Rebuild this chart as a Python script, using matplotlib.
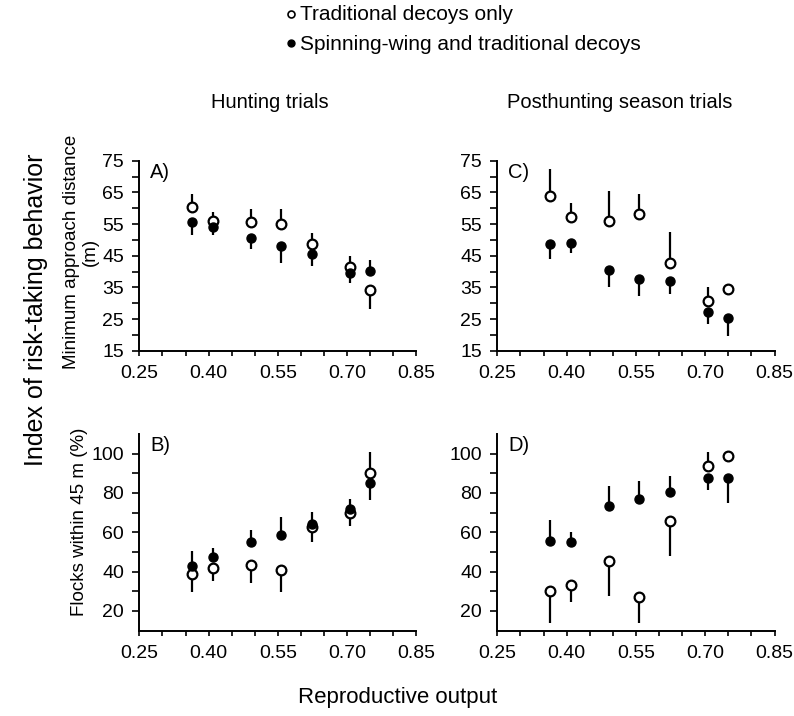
import numpy as np
import matplotlib
matplotlib.use("Agg")
import matplotlib.pyplot as plt

plt.rcParams['font.family'] = ['Liberation Sans', 'DejaVu Sans']

# Reproductive output (x positions, shared by all panels)
repro = [0.363, 0.409, 0.492, 0.556, 0.624, 0.705, 0.750]

# Panel A: hunting trials, minimum approach distance (m)
A_open = [60.3, 56.0, 55.5, 55.1, 48.8, 41.5, 34.2]
A_open_end = [64.6, 58.8, 59.8, 59.8, 52.2, 45.0, 28.2]
A_fill = [55.5, 54.0, 50.7, 48.2, 45.4, 39.6, 40.1]
A_fill_end = [51.4, 51.4, 47.1, 42.7, 41.9, 36.5, 43.5]

# Panel C: posthunting season, minimum approach distance (m)
C_open = [64.0, 57.2, 55.8, 58.2, 42.8, 30.7, 34.5]
C_open_end = [72.5, 61.6, 65.3, 64.4, 52.6, 35.0, 34.5]
C_fill = [48.6, 49.0, 40.4, 37.5, 37.0, 27.3, 25.3]
C_fill_end = [44.0, 45.8, 35.2, 32.2, 32.8, 23.3, 19.7]

# Panel B: hunting trials, flocks within 45 m (%)
B_open = [38.6, 41.8, 43.3, 41.0, 62.7, 69.7, 89.9]
B_open_end = [29.7, 35.3, 34.1, 29.7, 55.1, 63.3, 100.8]
B_fill = [42.8, 47.2, 54.9, 58.6, 64.2, 71.9, 85.3]
B_fill_end = [50.4, 52.1, 61.3, 67.7, 70.5, 76.8, 76.4]

# Panel D: posthunting season, flocks within 45 m (%)
D_open = [30.0, 33.4, 45.5, 27.0, 65.8, 93.9, 98.7]
D_open_end = [13.7, 24.4, 27.5, 13.7, 47.9, 100.8, 98.7]
D_fill = [55.8, 54.9, 73.6, 76.8, 80.6, 87.7, 87.7]
D_fill_end = [66.0, 59.9, 83.5, 86.0, 88.5, 81.5, 75.1]

xticks = [0.25, 0.30, 0.35, 0.40, 0.45, 0.50, 0.55, 0.60, 0.65, 0.70, 0.75, 0.80, 0.85]
xlabels = ["0.25", "", "", "0.40", "", "", "0.55", "", "", "0.70", "", "", "0.85"]
dist_ticks = [15, 20, 25, 30, 35, 40, 45, 50, 55, 60, 65, 70, 75]
dist_labels = ["15", "", "25", "", "35", "", "45", "", "55", "", "65", "", "75"]
flock_ticks = [20, 30, 40, 50, 60, 70, 80, 90, 100]
flock_labels = ["20", "", "40", "", "60", "", "80", "", "100"]

W, H = 794, 716
fig = plt.figure(figsize=(W / 100, H / 100), dpi=100)


def rect(x0, x1, ytop, ybot):
    return [x0 / W, 1 - ybot / H, (x1 - x0) / W, (ybot - ytop) / H]


axA = fig.add_axes(rect(139.3, 416.5, 160.7, 350.7))
axC = fig.add_axes(rect(497.3, 774.5, 160.7, 350.7))
axB = fig.add_axes(rect(139.3, 416.5, 434.0, 630.5))
axD = fig.add_axes(rect(497.3, 774.5, 434.0, 630.5))


def yerr(vals, ends):
    v = np.array(vals)
    e = np.array(ends)
    lower = np.clip(v - e, 0, None)
    upper = np.clip(e - v, 0, None)
    return [lower, upper]


def draw(ax, o, oe, f, fe, ylim, yt, ytl, letter):
    ax.errorbar(repro, o, yerr=yerr(o, oe), fmt='o', mfc='white', mec='black',
                mew=1.6, ms=7, ecolor='black', elinewidth=1.6, capsize=0, zorder=3)
    ax.errorbar(repro, f, yerr=yerr(f, fe), fmt='o', mfc='black', mec='black',
                ms=6.5, ecolor='black', elinewidth=1.6, capsize=0, zorder=4)
    ax.set_xlim(0.25, 0.85)
    ax.set_ylim(*ylim)
    ax.set_xticks(xticks)
    ax.set_xticklabels(xlabels, fontsize=14)
    ax.set_yticks(yt)
    ax.set_yticklabels(ytl, fontsize=14)
    for s in ['top', 'right']:
        ax.spines[s].set_visible(False)
    for s in ['left', 'bottom']:
        ax.spines[s].set_linewidth(1.4)
    ax.tick_params(axis='x', direction='out', length=3.5, width=1.2, pad=7)
    ax.tick_params(axis='y', direction='out', length=5, width=1.2, pad=6)
    ax.text(0.04, 0.99, letter, transform=ax.transAxes, fontsize=14.5,
            va='top', ha='left')


draw(axA, A_open, A_open_end, A_fill, A_fill_end, (15, 75), dist_ticks, dist_labels, "A)")
draw(axC, C_open, C_open_end, C_fill, C_fill_end, (15, 75), dist_ticks, dist_labels, "C)")
draw(axB, B_open, B_open_end, B_fill, B_fill_end, (10, 110), flock_ticks, flock_labels, "B)")
draw(axD, D_open, D_open_end, D_fill, D_fill_end, (10, 110), flock_ticks, flock_labels, "D)")

# column titles
fig.text(270 / W, 1 - 103 / H, "Hunting trials", ha='center', va='center', fontsize=14.5)
fig.text(620 / W, 1 - 103 / H, "Posthunting season trials", ha='center', va='center', fontsize=14.5)

# axis labels
fig.text(81 / W, 1 - 252 / H, "Minimum approach distance\n(m)", rotation=90,
         ha='center', va='center', fontsize=13.5, linespacing=1.15)
fig.text(79 / W, 1 - 522 / H, "Flocks within 45 m (%)", rotation=90,
         ha='center', va='center', fontsize=13.5)
fig.text(36 / W, 1 - 310 / H, "Index of risk-taking behavior", rotation=90,
         ha='center', va='center', fontsize=18)
fig.text(398 / W, 1 - 697 / H, "Reproductive output", ha='center', va='center', fontsize=16)

# legend at top
fig.lines.append(plt.Line2D([291 / W], [1 - 14 / H], transform=fig.transFigure,
                            marker='o', mfc='white', mec='black', mew=1.2, ms=5))
fig.lines.append(plt.Line2D([291 / W], [1 - 43 / H], transform=fig.transFigure,
                            marker='o', mfc='black', mec='black', ms=5))
fig.text(300 / W, 1 - 15 / H, "Traditional decoys only", ha='left', va='center', fontsize=15)
fig.text(300 / W, 1 - 44 / H, "Spinning-wing and traditional decoys", ha='left', va='center', fontsize=15)

fig.savefig("out.png", dpi=100)
